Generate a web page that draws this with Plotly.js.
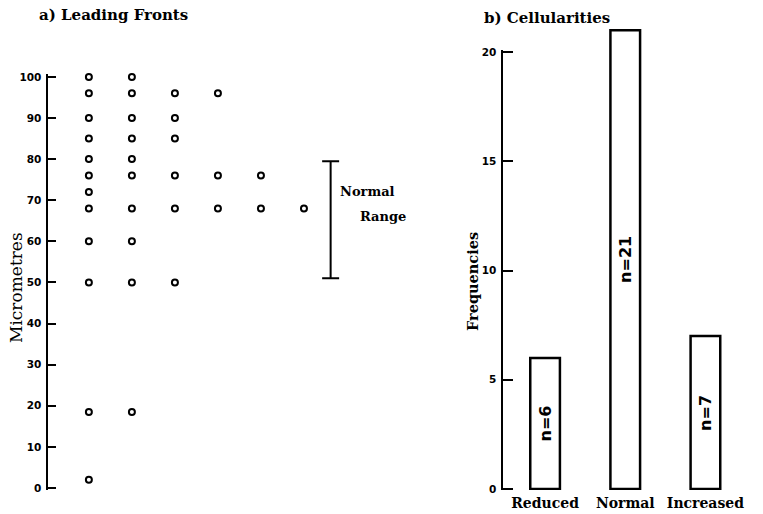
<!DOCTYPE html>
<html><head><meta charset="utf-8">
<script src="https://cdn.plot.ly/plotly-3.0.1.min.js"></script>
<style>html,body{margin:0;padding:0;background:#fff}</style>
</head><body>
<div id="chart" style="width:763px;height:514px"></div>
<script>
// a) Leading fronts: measured levels (micrometres) and number of specimens at each level
const frontLevels = [100, 96, 90, 85, 80, 76, 72, 68, 60, 50, 18.5, 2];
const frontCounts = [2, 4, 3, 3, 2, 5, 1, 6, 2, 3, 2, 1];
const normalRange = [51, 79.5];
const leftTicks = [0, 10, 20, 30, 40, 50, 60, 70, 80, 90, 100];

// b) Cellularities
const cellCategories = ['Reduced', 'Normal', 'Increased'];
const cellFrequencies = [6, 21, 7];
const cellLabels = ['n=6', 'n=21', 'n=7'];
const rightTicks = [0, 5, 10, 15, 20];

const W = 763, H = 514;
const px = v => v / W;
const py = v => (H - v) / H;

const dotX = [], dotY = [];
frontLevels.forEach((lv, i) => {
  for (let k = 1; k <= frontCounts[i]; k++) { dotX.push(k); dotY.push(lv); }
});

const serifB = {family: 'DejaVu Serif', size: 13, color: '#000', weight: 'bold'};
const tickF = {family: 'DejaVu Sans', size: 10.5, color: '#000', weight: 'bold'};

// right panel scale: axis (0..20) spans 490 -> 50 px; bars use a taller hidden axis with same px/unit
const r2 = [-0.05, 20.1];
const pxPerUnit = (490 - 50) / (r2[1] - r2[0]);
const r3 = [r2[0], r2[0] + (490 - 20) / pxPerUnit];

const traces = [
  {
    type: 'scatter', mode: 'markers', x: dotX, y: dotY, xaxis: 'x', yaxis: 'y',
    marker: {symbol: 'circle-open', size: 6, color: '#000', line: {width: 2, color: '#000'}},
    cliponaxis: false, hoverinfo: 'skip', showlegend: false
  },
  {
    type: 'scatter', mode: 'markers', x: [6.62],
    y: [(normalRange[0] + normalRange[1]) / 2], xaxis: 'x', yaxis: 'y',
    marker: {size: 1, color: 'rgba(0,0,0,0)'},
    error_y: {type: 'data', symmetric: true, array: [(normalRange[1] - normalRange[0]) / 2],
              width: 8.5, thickness: 2, color: '#000'},
    showlegend: false, hoverinfo: 'skip'
  },
  {
    type: 'scatter', mode: 'markers', x: cellCategories, y: cellFrequencies.map(() => 0),
    xaxis: 'x2', yaxis: 'y2', marker: {size: 1, color: 'rgba(0,0,0,0)'},
    showlegend: false, hoverinfo: 'skip'
  },
  {
    type: 'bar', x: cellCategories, y: cellFrequencies, xaxis: 'x2', yaxis: 'y3',
    width: 0.37, marker: {color: '#fff', line: {color: '#000', width: 2.5}},
    showlegend: false, hoverinfo: 'skip'
  }
];

const annotations = [
  {text: 'a) Leading Fronts', xref: 'paper', yref: 'paper', x: px(37), y: py(15),
   xanchor: 'left', yanchor: 'middle', showarrow: false, font: {...serifB, size: 15}},
  {text: 'b) Cellularities', xref: 'paper', yref: 'paper', x: px(482), y: py(18),
   xanchor: 'left', yanchor: 'middle', showarrow: false, font: {...serifB, size: 15}},
  {text: 'Micrometres', xref: 'paper', yref: 'paper', x: px(16), y: py(288), textangle: -90,
   xanchor: 'center', yanchor: 'middle', showarrow: false,
   font: {family: 'DejaVu Serif', size: 17, color: '#000'}},
  {text: 'Frequencies', xref: 'paper', yref: 'paper', x: px(472), y: py(282), textangle: -90,
   xanchor: 'center', yanchor: 'middle', showarrow: false, font: {...serifB, size: 14.5}},
  {text: 'Normal', xref: 'x', yref: 'y', x: 6.79, y: 72, xanchor: 'left', yanchor: 'middle',
   showarrow: false, font: serifB},
  {text: 'Range', xref: 'x', yref: 'y', x: 7.26, y: 66.1, xanchor: 'left', yanchor: 'middle',
   showarrow: false, font: serifB}
];
cellCategories.forEach((c, i) => {
  annotations.push({text: cellLabels[i], xref: 'x2', yref: 'y3', x: c, y: cellFrequencies[i] / 2,
    textangle: -90, showarrow: false, xanchor: 'center', yanchor: 'middle',
    font: {family: 'DejaVu Sans', size: 16, color: '#000', weight: 'bold'}});
});

const layout = {
  width: W, height: H,
  margin: {l: 0, r: 0, t: 0, b: 0},
  paper_bgcolor: '#fff', plot_bgcolor: 'rgba(0,0,0,0)',
  showlegend: false,
  xaxis: {domain: [px(48), px(390)], range: [0.05, 8], visible: false, fixedrange: true},
  yaxis: {domain: [py(490), py(74)], range: [-0.5, 100.7], anchor: 'x',
          showgrid: false, zeroline: false, showline: true, linewidth: 2.5, linecolor: '#000',
          ticks: 'inside', ticklen: 8, tickwidth: 2, tickcolor: '#000',
          tickvals: leftTicks, ticktext: leftTicks.map(String), tickfont: tickF,
          ticklabelstandoff: 2, automargin: false},
  xaxis2: {domain: [px(503), px(745.5)], range: [-0.525, 2.5], type: 'category', anchor: 'y2',
           showgrid: false, zeroline: false, showline: false, ticks: '',
           tickfont: {...serifB, size: 14}, automargin: false, ticklabelstandoff: 3},
  yaxis2: {domain: [py(490), py(50)], range: r2, anchor: 'x2',
           showgrid: false, zeroline: false, showline: true, linewidth: 2.5, linecolor: '#000',
           ticks: 'inside', ticklen: 10, tickwidth: 2, tickcolor: '#000',
           tickvals: rightTicks, ticktext: rightTicks.map(String), tickfont: tickF,
           ticklabelstandoff: 2, automargin: false},
  yaxis3: {domain: [py(490), py(20)], range: r3, anchor: 'x2', visible: false,
           showgrid: false, zeroline: false},
  annotations: annotations
};

Plotly.newPlot('chart', traces, layout, {displayModeBar: false, staticPlot: true});
</script>
</body></html>
